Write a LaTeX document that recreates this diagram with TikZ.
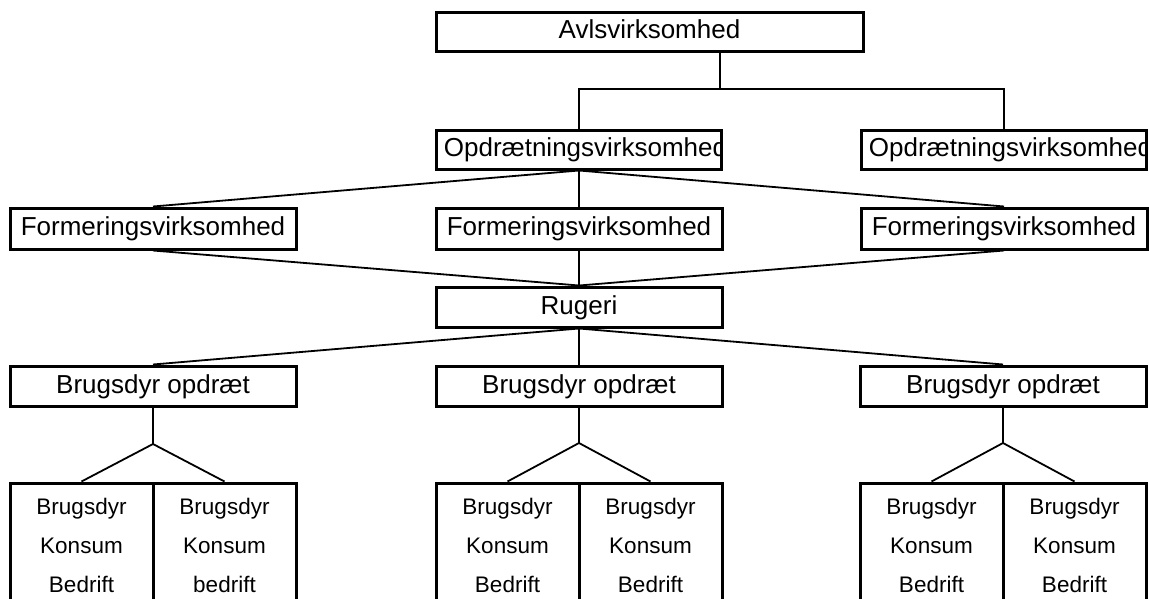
\documentclass[tikz,border=0pt]{standalone}
\usepackage{fontspec}
\setmainfont{Liberation Sans}
\begin{document}
\begin{tikzpicture}[x=1pt,y=-1pt,
  box/.style={draw, line width=3pt, inner sep=0pt, minimum width=286pt, minimum height=40pt,
    font=\fontsize{26}{31}\selectfont, text height=19pt, text depth=5pt},
  opdbox/.style={box, minimum width=285pt, minimum height=39pt,
    path picture={\node[anchor=west, inner sep=0pt, font=\fontsize{26}{31}\selectfont,
      text height=19pt, text depth=5pt] at ([xshift=5pt]path picture bounding box.west) {#1};
      \draw[line width=3pt] (path picture bounding box.south west) rectangle (path picture bounding box.north east);}},
  cell/.style={draw, line width=3pt, inner sep=0pt, minimum width=143pt, minimum height=124pt,
    align=center, font=\fontsize{22.5}{39}\selectfont},
  conn/.style={line width=2.5pt},
  slant/.style={line width=1.8pt, line join=round}]
\clip (0,0) rectangle (1149,598);
\fill[white] (0,0) rectangle (1149,598);

% top
\node[box, minimum width=427pt, minimum height=39pt] (avls) at (649.5,31.5) {Avlsvirksomhed};
\node[opdbox=Opdrætningsvirksomhed] (opd1) at (579,149.5) {};
\node[opdbox=Opdrætningsvirksomhed] (opd2) at (1004,149.5) {};

% formering
\node[box, minimum height=41pt] (form1) at (153,228.5) {Formeringsvirksomhed};
\node[box, minimum height=41pt] (form2) at (579,228.5) {Formeringsvirksomhed};
\node[box, minimum height=41pt] (form3) at (1004,228.5) {Formeringsvirksomhed};

% rugeri
\node[box] (rug) at (579,307) {Rugeri};

% brugsdyr opdraet
\node[box] (bo1) at (153,386) {Brugsdyr opdræt};
\node[box] (bo2) at (579,386) {Brugsdyr opdræt};
\node[box] (bo3) at (1003,386) {Brugsdyr opdræt};

% bottom cells
\node[cell] (c1a) at (81.5,545) {Brugsdyr\\Konsum\\Bedrift};
\node[cell] (c1b) at (224.5,545) {Brugsdyr\\Konsum\\bedrift};
\node[cell] (c2a) at (507.5,545) {Brugsdyr\\Konsum\\Bedrift};
\node[cell] (c2b) at (650.5,545) {Brugsdyr\\Konsum\\Bedrift};
\node[cell] (c3a) at (931.5,545) {Brugsdyr\\Konsum\\Bedrift};
\node[cell] (c3b) at (1074.5,545) {Brugsdyr\\Konsum\\Bedrift};

% connectors
\coordinate (ja) at (720,51);
\coordinate (jb) at (720,89);
\draw[conn] (ja) -- (jb);
\draw[conn] (opd1.north) |- (jb) -| (opd2.north);

\draw[slant] (opd1.south) -- (form1.north);
\draw[conn] (opd1.south) -- (form2.north);
\draw[slant] (opd1.south) -- (form3.north);

\draw[slant] (form1.south) -- (rug.north);
\draw[conn] (form2.south) -- (rug.north);
\draw[slant] (form3.south) -- (rug.north);

\draw[slant] (rug.south) -- (bo1.north);
\draw[conn] (rug.south) -- (bo2.north);
\draw[slant] (rug.south) -- (bo3.north);

\coordinate (j1) at (153,444);
\coordinate (j2) at (579,443);
\coordinate (j3) at (1003,443);
\draw[conn] (bo1.south) -- (j1);
\draw[conn] (bo2.south) -- (j2);
\draw[conn] (bo3.south) -- (j3);
\draw[slant] (c1a.north) -- (j1) -- (c1b.north);
\draw[slant] (c2a.north) -- (j2) -- (c2b.north);
\draw[slant] (c3a.north) -- (j3) -- (c3b.north);
\end{tikzpicture}
\end{document}
